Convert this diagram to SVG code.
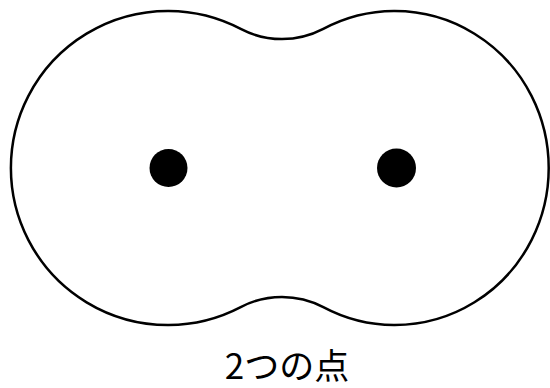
<svg xmlns="http://www.w3.org/2000/svg" width="550" height="388" viewBox="0 0 550 388">
<style>
.outline{fill:#fff;stroke:#000;stroke-width:2.5}
.pt{fill:#000}
.lbl{font-family:"Noto Sans CJK JP","Noto Sans",sans-serif;font-size:35px;fill:#000;text-anchor:middle}
</style>
<rect width="550" height="388" fill="#fff"/>
<g id="region">
<path class="outline" d="M 240.7 28.9 A 89.07 89.07 0 0 0 323.3 28.9 A 154 157 0 1 1 323.3 307.1 A 89.07 89.07 0 0 0 240.7 307.1 A 157 157 0 1 1 240.7 28.9 Z"/>
</g>
<g id="point1"><circle class="pt" cx="168.5" cy="168" r="19"/></g>
<g id="point2"><circle class="pt" cx="396.5" cy="168" r="19.5"/></g>
<g id="connectors"></g>
<g id="caption"><text class="lbl" x="287" y="379">2つの点</text></g>
</svg>
